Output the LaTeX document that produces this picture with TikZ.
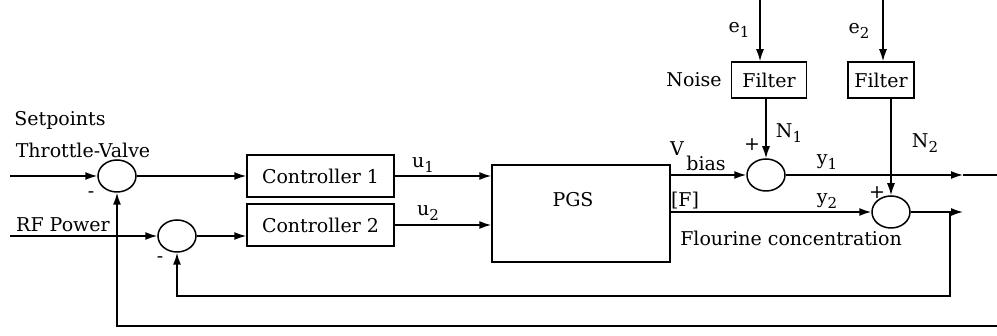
\documentclass[tikz,border=0pt]{standalone}
\usepackage{fontspec}
\setmainfont{DejaVu Serif}
\usetikzlibrary{shapes.geometric,arrows.meta}
\newcommand{\mysub}[1]{\raisebox{-0.45ex}{\fontsize{15}{17}\selectfont #1}}
\begin{document}
\begin{tikzpicture}[x=1pt,y=-1pt,
  lbl/.style={inner sep=0pt,font=\fontsize{19}{22}\selectfont},
  blk/.style={draw,line width=1.5pt,inner sep=0pt,font=\fontsize{19}{22}\selectfont},
  sumj/.style={draw,line width=1.5pt,ellipse,minimum width=38pt,minimum height=32pt,inner sep=0pt},
  wire/.style={line width=1.5pt},
  arr/.style={line width=1.5pt,-{Latex[length=12pt,width=8pt]}}]
\useasboundingbox (0,0) rectangle (997,336);
% summing junctions
\node[sumj] (s1) at (117,176) {};
\node[sumj] (s2) at (177,236) {};
\node[sumj] (s3) at (766,175) {};
\node[sumj] (s4) at (891,212) {};
% blocks
\node[blk,minimum width=147pt,minimum height=42pt] (c1) at (320.5,176) {Controller 1};
\node[blk,minimum width=147pt,minimum height=42pt] (c2) at (320.5,225) {Controller 2};
\node[blk,minimum width=178pt,minimum height=97pt] (pgs) at (581,213.5) {};
\node[lbl] (pgst) at (573,200) {PGS};
\node[blk,minimum width=75pt,minimum height=36pt] (f1) at (769,80) {Filter};
\node[blk,minimum width=66pt,minimum height=36pt] (f2) at (881,80) {Filter};
% coordinates
\coordinate (in1) at (10,176);
\coordinate (in2) at (10,236);
\coordinate (e1) at (760,0);
\coordinate (e2) at (883,0);
\coordinate (y1a) at (963,175);
\coordinate (y1b) at (997,175);
\coordinate (y2a) at (963,212);
\coordinate (fbi) at (950,212);
\coordinate (fbib) at (950,296);
\coordinate (fbo) at (997,326);
% connectors
\draw[arr] (in1) -- (s1.west);
\draw[arr] (in2) -- (s2.west);
\draw[arr] (s1.east) -- (c1.west);
\draw[arr] (s2.east) -- (c2.west |- s2.east);
\draw[arr] (c1.east) -- (c1.east -| pgs.west);
\draw[arr] (c2.east) -- (c2.east -| pgs.west);
\draw[arr] (pgs.east |- s3.west) -- (s3.west);
\draw[arr] (pgs.east |- s4.west) -- (s4.west);
\draw[arr] (e1) -- (e1 |- f1.north);
\draw[arr] (e2) -- (e2 |- f2.north);
\draw[arr] (f1.south -| s3.north) -- (s3.north);
\draw[arr] (f2.south -| s4.north) -- (s4.north);
\draw[arr] (s3.east) -- (y1a);
\draw[wire] (y1a) -- (y1b);
\draw[arr] (s4.east) -- (y2a);
\draw[arr] (fbi) -- (fbib) -- (fbib -| s2.south) -- (s2.south);
\draw[arr] (fbo) -- (fbo -| s1.south) -- (s1.south);
% labels
\node[lbl] (sp) at (60,120) {Setpoints};
\node[lbl] (tv) at (83,150) {Throttle-Valve};
\node[lbl] (rf) at (63,225) {RF Power};
\node[lbl] (m1) at (91,195) {-};
\node[lbl] (m2) at (160,260) {-};
\node[lbl] (u1) at (423,165) {u\mysub{1}};
\node[lbl] (u2) at (428,213) {u\mysub{2}};
\node[lbl] (vl) at (677,149) {V};
\node[lbl] (bl) at (706,163) {bias};
\node[lbl] (fl) at (685,201) {[F]};
\node[lbl] (p1) at (752,145) {+};
\node[lbl] (p2) at (877,193) {+};
\node[lbl] (n1) at (789,133) {N\mysub{1}};
\node[lbl] (n2) at (925,143) {N\mysub{2}};
\node[lbl] (y1) at (827,162) {y\mysub{1}};
\node[lbl] (y2) at (827,201) {y\mysub{2}};
\node[lbl] (fc) at (791,238) {Flourine concentration};
\node[lbl] (e1l) at (739,30) {e\mysub{1}};
\node[lbl] (e2l) at (859,31) {e\mysub{2}};
\node[lbl] (noise) at (694,80) {Noise};
\end{tikzpicture}
\end{document}
